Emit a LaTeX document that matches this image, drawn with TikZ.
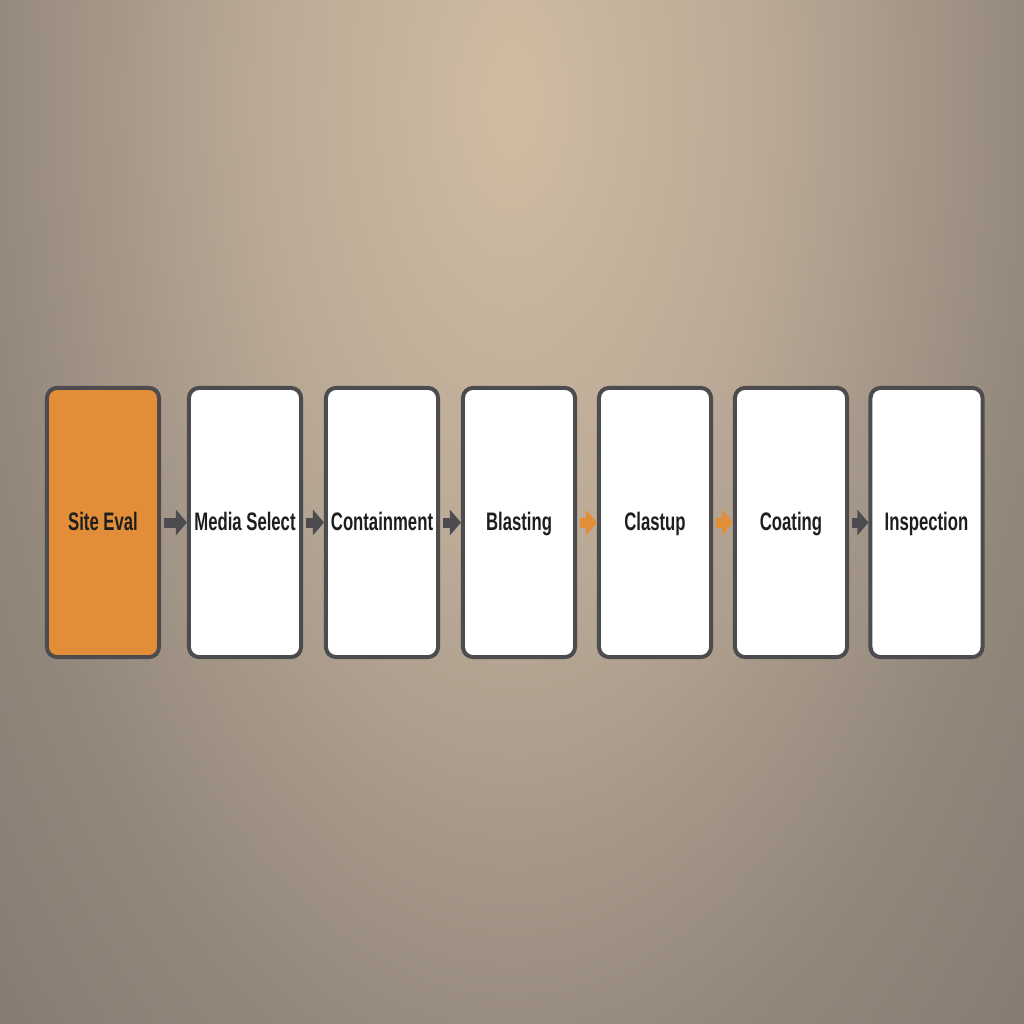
\documentclass[tikz,border=0pt]{standalone}
\usepackage{fontspec}
\newfontfamily\stepfont{Liberation Sans}[FakeStretch = 0.66]
\usetikzlibrary{
    arrows.meta,
    positioning
}
\definecolor{wallA}{RGB}{208,188,162}
\definecolor{wallB}{RGB}{186,169,150}
\definecolor{wallC}{RGB}{146,135,123}
\definecolor{wallD}{RGB}{120,111,102}
\definecolor{frame}{RGB}{76,76,78}
\definecolor{accent}{RGB}{226,142,56}
\definecolor{ink}{RGB}{30,30,30}
\pgfdeclareradialshading{wall}{\pgfpoint{0bp}{0bp}}{color(0bp)=(wallA); color(7bp)=(wallB); color(15bp)=(wallC); color(25bp)=(wallD); color(50bp)=(wallD)}
\tikzset {
    step box/.style = {
        draw = frame,
        fill = white,
        line width = 0.04cm,
        rounded corners = 0.1cm,
        minimum width = 1.12cm,
        minimum height = 2.69cm,
        inner sep = 0pt,
        text height = 1.6ex,
        text depth = 0.5ex,
        text = ink,
        font = \stepfont\bfseries\fontsize{7.2}{8}\selectfont
    },
    active box/.style = {step box, fill = accent},
    flow arrow/.style = {
        draw = frame,
        line width = 0.1cm,
        shorten <= 0.03cm,
        arrows = {-Triangle[length = 0.11cm, width = 0.25cm]}
    },
    hot arrow/.style = {flow arrow, draw = accent}
}

\begin{document}
\begin{tikzpicture}[x = 0.01cm, y = -0.01cm]
    \useasboundingbox (0, 0) rectangle (1024, 1024);
    % wall
    \begin{scope}
        \clip (0, 0) rectangle (1024, 1024);
        \fill [wallD] (0, 0) rectangle (1024, 1024);
        \shade [shading = wall] (512, 100) ellipse [x radius = 900, y radius = 1700];
    \end{scope}
    % steps
    \node (eval) [active box] at (103, 522.5) {Site Eval};
    \node (media) [step box] at (245, 522.5) {Media Select};
    \node (contain) [step box] at (382, 522.5) {Containment};
    \node (blast) [step box] at (519, 522.5) {Blasting};
    \node (clastup) [step box] at (655, 522.5) {Clastup};
    \node (coat) [step box] at (791, 522.5) {Coating};
    \node (inspect) [step box] at (926.5, 522.5) {Inspection};
    % arrows
    \draw [flow arrow] (eval) -- (media);
    \draw [flow arrow] (media) -- (contain);
    \draw [flow arrow] (contain) -- (blast);
    \draw [hot arrow] (blast) -- (clastup);
    \draw [hot arrow] (clastup) -- (coat);
    \draw [flow arrow] (coat) -- (inspect);
\end{tikzpicture}
\end{document}
